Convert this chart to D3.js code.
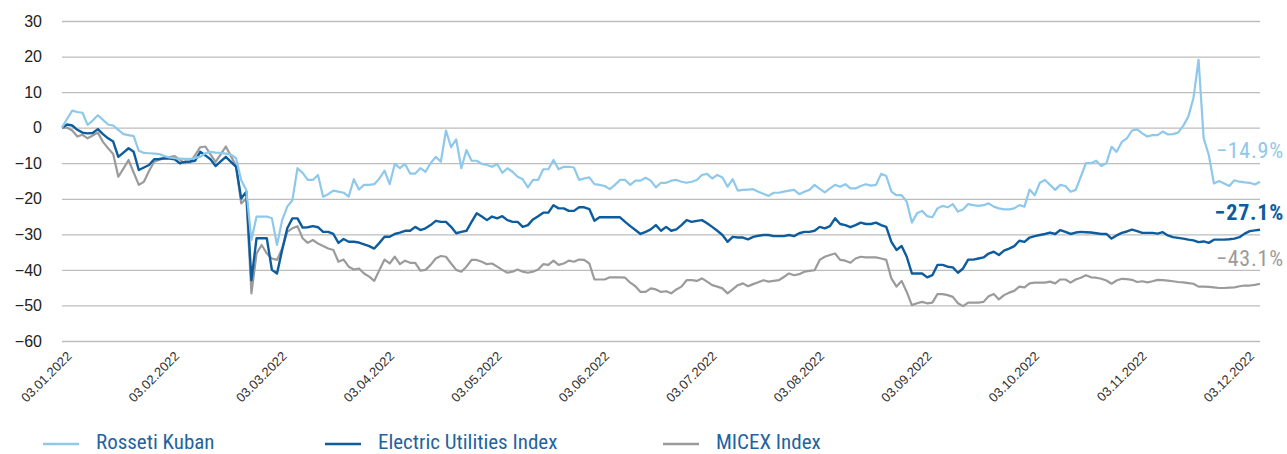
<!DOCTYPE html>
<html>
<head>
<meta charset="utf-8">
<script src="https://cdn.jsdelivr.net/npm/d3@7"></script>
<style>
  body { margin: 0; background: #fff; }
  svg { display: block; font-family: "Liberation Sans Narrow", "Roboto Condensed", "DejaVu Sans Condensed", sans-serif; }
</style>
</head>
<body>
<svg width="1287" height="454"></svg>
<script>
// month labels, one every 21 trading days
const tickLabels = ["03.01.2022", "03.02.2022", "03.03.2022", "03.04.2022", "03.05.2022", "03.06.2022",
    "03.07.2022", "03.08.2022", "03.09.2022", "03.10.2022", "03.11.2022", "03.12.2022"];
const yTicks = [30, 20, 10, 0, -10, -20, -30, -40, -50, -60];

// % change since 03.01.2022, one value per trading day
const rossetiKuban = [0, 2.5, 4.8, 4.4, 4.2, 0.8, 2, 3.5, 2.2, 0.9, 0.6, -0.6, -1.8, -2.1, -2.4, -6.5, -7.1, -7.2, -7.3, -7.4,
    -8, -8.4, -8.6, -8.7, -8.8, -8.8, -8.5, -8.2, -7.2, -6.8, -7, -7.1, -7.3, -7.6, -8.6, -14.7, -17.5, -31.6, -25, -25,
    -25, -25.5, -33, -26, -22.2, -20.4, -11.4, -12.7, -14.7, -14.7, -13.3, -19.4, -18.7, -17.7, -18, -18.3, -19.4, -14.5, -17.4, -16.1,
    -16.1, -15.9, -14.3, -12.1, -15.9, -10.2, -11.4, -10.2, -12.9, -12.9, -11.4, -12.4, -10, -8.2, -9.6, -0.8, -5.5, -3.3, -11.4, -6.3,
    -9.3, -9.3, -10.2, -10.5, -11, -10.2, -12.7, -11.4, -12.4, -13.8, -14.5, -16.8, -14.7, -14.7, -11.7, -11.7, -9.1, -11.7, -11, -11,
    -11.2, -14.7, -14.3, -14, -15.9, -16.1, -16.4, -17.3, -16.1, -14.7, -14.7, -16.1, -14.9, -14.9, -14.1, -14.9, -16.8, -15.5, -15.5, -14.9,
    -14.7, -15.2, -15.5, -15.2, -14.7, -13.3, -13, -14.3, -13.3, -14, -16.6, -14.5, -17.7, -17.5, -17.4, -17.3, -18, -18.6, -19.2, -18.3,
    -18.3, -18, -17.7, -17.5, -18.7, -18, -17.5, -16.1, -17.2, -18.2, -17.1, -16.1, -16.6, -15.9, -17.1, -17.1, -16.4, -15.9, -16.3, -16.1,
    -13, -13.6, -18, -19, -19, -20.8, -26.7, -24.1, -23.4, -24.9, -25.2, -22.7, -22, -22.4, -21.5, -23.6, -23, -21.5, -21.8, -22,
    -21.8, -21.3, -22.2, -22.7, -23, -23, -22.7, -21.8, -22.2, -17.4, -19, -15.5, -14.7, -16.1, -17.5, -16.1, -16.4, -18, -17.5, -13.8,
    -10, -10, -9.3, -10.8, -10, -5.4, -6.8, -4, -3, -0.8, -0.5, -1.6, -2.5, -2.1, -2.1, -1.1, -1.9, -1.8, -1.4, 0.5,
    3.1, 8.3, 19.1, -3, -7.7, -15.7, -15, -15.7, -16.4, -14.8, -15.2, -15.4, -15.5, -16, -15.2];

const electricUtilities = [0, 0.9, 0.6, -0.6, -1.4, -1.6, -1.5, -0.4, -1.8, -3, -3.9, -8.2, -7, -5.8, -6.8, -11.9, -11.2, -10.5, -8.9, -8.8,
    -8.6, -8.7, -8.9, -10, -9.6, -9.5, -9.3, -6.8, -7.8, -8.9, -10.8, -9.5, -8.2, -9.6, -11, -19.9, -18, -42.9, -31.1, -31.1,
    -31.1, -40, -41, -34.4, -28.3, -25.5, -25.5, -28.1, -28, -27.7, -28, -29.3, -29.3, -29.9, -32.4, -31.3, -32.1, -32.1, -32.3, -32.8,
    -33.3, -34, -32.4, -30.7, -30.7, -29.9, -29.5, -29, -29, -27.9, -28.8, -28.3, -27.4, -26.2, -26.5, -26.5, -27.9, -29.7, -29.3, -29,
    -26.5, -24.1, -25, -26, -25, -25.5, -24.9, -26, -26.5, -26.5, -27.9, -27.4, -25.8, -24.9, -23.9, -23.9, -21.8, -22.7, -22.7, -23.4,
    -23.4, -22.4, -22.4, -22.9, -26.2, -25.2, -25.2, -25.2, -25.2, -25.2, -26.5, -27.7, -28.8, -29.9, -29.3, -28.6, -27.4, -29, -27.9, -29,
    -28.6, -27.4, -26, -26.5, -26.2, -26, -26.9, -27.9, -29, -30.2, -32.1, -30.7, -30.9, -30.9, -31.4, -30.7, -30.4, -30.2, -30.2, -30.5,
    -30.5, -30.5, -30.2, -30.5, -29.7, -29.3, -29.3, -29, -27.9, -28.3, -27.7, -25.5, -27.1, -27.4, -28, -27.4, -26.7, -27.1, -27.1, -26.7,
    -27.4, -27.9, -32.1, -34.4, -33.3, -36.3, -41, -41, -41, -42.1, -41.5, -38.6, -38.6, -39.1, -39.3, -40.8, -39.6, -37.1, -37.1, -36.8,
    -36.5, -35.4, -34.9, -35.8, -34.6, -34, -33.3, -31.8, -32.1, -30.9, -30.5, -30.2, -29.9, -29.5, -29.9, -28.8, -29.3, -29.9, -29.5, -29.3,
    -29.4, -29.5, -29.7, -29.9, -29.9, -31.2, -30.3, -29.6, -29.2, -28.7, -29.1, -29.6, -29.6, -29.6, -29.8, -29.4, -30.3, -30.8, -31, -31.2,
    -31.5, -31.7, -32.2, -32, -32.4, -31.5, -31.5, -31.5, -31.4, -31.2, -30.8, -29.8, -29.1, -28.9, -28.7];

const micex = [0, 0, -0.8, -2.5, -2, -3, -2.2, -1.4, -4, -5.8, -7.4, -13.8, -11.5, -9.1, -12.6, -16.1, -15.2, -12.2, -9.6, -9,
    -8.6, -8.3, -8, -9, -10, -9.8, -7.7, -5.5, -5.3, -7.5, -9.6, -7.5, -5.3, -8, -10.8, -21.3, -19.9, -46.6, -35.4, -33,
    -35.4, -36.8, -37.2, -34, -29.3, -28.3, -27.7, -31.1, -32.4, -31.6, -32.6, -33.3, -34, -34.4, -37.7, -37.1, -39.1, -39.9, -39.6, -41,
    -41.9, -43.1, -40, -37.1, -38.2, -36.3, -38.4, -37.4, -38, -38, -40.2, -40, -38.6, -36.8, -36.1, -36.3, -38.2, -40, -40.5, -39.1,
    -37.2, -37.2, -37.7, -38.4, -38.2, -39.1, -40, -40.8, -40.5, -39.9, -40.5, -40.8, -40.5, -39.9, -38.4, -38.6, -37.4, -38.6, -38.2, -37.4,
    -37.7, -37.1, -37.2, -38.2, -42.7, -42.7, -42.7, -42.1, -42.1, -42.1, -42.2, -43.6, -44.6, -46.2, -46.2, -45.2, -45.5, -46.2, -46, -46.6,
    -45.5, -44.7, -42.9, -42.9, -43.1, -42.4, -43.3, -44.3, -44.7, -45.2, -46.6, -45.5, -44.3, -43.8, -44.6, -44, -43.5, -42.9, -43.3, -43.1,
    -42.9, -42, -41, -41.5, -41.2, -40.5, -40.3, -40.1, -37.2, -36.3, -35.8, -35.4, -37.2, -37.4, -38, -36.8, -36.3, -36.5, -36.5, -36.5,
    -36.8, -37.2, -42.4, -44.7, -43.1, -46.2, -49.9, -49.4, -49, -49.4, -49.2, -46.8, -46.8, -47.1, -47.6, -49.4, -50.2, -49.2, -49.2, -49.2,
    -49, -47.4, -46.8, -48.3, -47.1, -46.4, -45.9, -44.7, -44.9, -43.8, -43.6, -43.6, -43.6, -43.3, -43.8, -42.7, -42.7, -43.6, -42.7, -42.2,
    -41.5, -42.1, -42.2, -42.5, -43, -43.9, -43, -42.5, -42.6, -42.8, -43.4, -43.2, -43.5, -43.2, -42.8, -42.9, -43, -43.2, -43.4, -43.5,
    -43.7, -43.9, -44.7, -44.7, -44.8, -44.9, -45.1, -45.1, -45, -44.9, -44.6, -44.4, -44.4, -44.2, -43.9];

const seriesNames = ["Rosseti Kuban", "Electric Utilities Index", "MICEX Index"];
const endLabels = ["\u221214.9%", "\u221227.1%", "\u221243.1%"];

const ticksEvery = 21;

let svg = d3.select("svg"),
    margin = { top: 21, right: 27, bottom: 113, left: 62 },
    width = +svg.attr("width") - margin.left - margin.right,
    height = +svg.attr("height") - margin.top - margin.bottom,
    g = svg.append("g").attr("transform", "translate(" + margin.left + "," + margin.top + ")");

let colors = ["#8ec8ea", "#0d5c9e", "#9b9b9b"];

let x = d3.scaleLinear().domain([0, rossetiKuban.length - 1]).range([0, width]);
let y = d3.scaleLinear().domain([-60, 30]).range([height, 0]);

// gridlines + y labels
let yAxis = d3.axisLeft(y).tickValues(yTicks).tickSize(-width).tickPadding(20).tickFormat(d3.format("d"));
let yg = g.append("g").call(yAxis);
yg.select(".domain").remove();
yg.selectAll(".tick line").attr("stroke", "#bdbdbd").attr("stroke-width", 1.3);
yg.selectAll(".tick text")
    .attr("fill", "#222")
    .attr("font-size", 16)
    .attr("font-family", "inherit");

// x labels, rotated
let tickIdx = tickLabels.map((d, i) => i * ticksEvery);
let xAxis = d3.axisBottom(x).tickValues(tickIdx).tickSize(0).tickFormat((d, i) => tickLabels[i]);
let xg = g.append("g").attr("transform", "translate(0," + height + ")").call(xAxis);
xg.select(".domain").remove();
xg.selectAll(".tick text")
    .attr("fill", "#333")
    .attr("font-size", 13)
    .attr("font-family", "inherit")
    .attr("text-anchor", "end")
    .attr("dy", 0)
    .attr("y", 0)
    .attr("transform", "translate(10,16) rotate(-45)");

// lines
let line = d3.line().x((d, i) => x(i)).y(d => y(d));
let allSeries = [rossetiKuban, electricUtilities, micex];
[2, 1, 0].forEach(function (k) {
    g.append("path")
        .datum(allSeries[k])
        .attr("fill", "none")
        .attr("stroke", colors[k])
        .attr("stroke-width", k == 1 ? 2.4 : 2.2)
        .attr("stroke-linejoin", "round")
        .attr("d", line);
});

// labels at the right end
let endY = [158, 220, 266];
svg.selectAll(".endlabel")
    .data(endLabels)
    .enter().append("text")
    .attr("class", "endlabel")
    .attr("x", 1284)
    .attr("y", (d, i) => endY[i])
    .attr("text-anchor", "end")
    .attr("font-size", 22)
    .attr("letter-spacing", 0.8)
    .attr("font-weight", (d, i) => i == 1 ? "bold" : "normal")
    .attr("fill", (d, i) => colors[i])
    .text(d => d);

// legend
let legendX = [43, 325, 663];
let legend = svg.append("g")
    .selectAll("g")
    .data(seriesNames)
    .enter().append("g")
    .attr("transform", (d, i) => "translate(" + legendX[i] + ",444)");
legend.append("line")
    .attr("x1", 0)
    .attr("x2", 36)
    .attr("stroke", (d, i) => colors[i])
    .attr("stroke-width", 2.7);
legend.append("text")
    .attr("x", 53)
    .attr("y", 5)
    .attr("font-size", 21)
    .attr("fill", "#1f64a0")
    .text(d => d);
</script>
</body>
</html>
